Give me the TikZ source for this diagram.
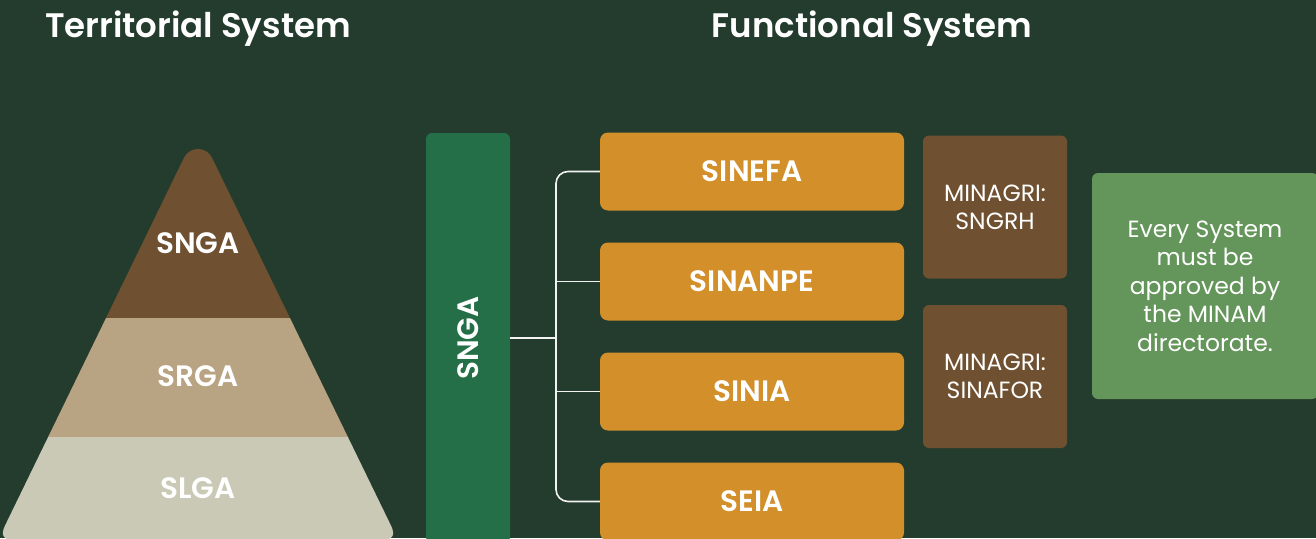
\documentclass[tikz,border=0pt]{standalone}
\usepackage{fontspec}
\setmainfont{Poppins}[BoldFont={Poppins SemiBold}]
\definecolor{bg}{HTML}{243C2D}
\definecolor{brownA}{HTML}{6F5030}
\definecolor{tanB}{HTML}{B8A382}
\definecolor{greyC}{HTML}{C9C9B6}
\definecolor{barG}{HTML}{256F48}
\definecolor{orangeD}{HTML}{D38F2A}
\definecolor{greenE}{HTML}{64955A}
\definecolor{lineW}{HTML}{F2F2F2}
\begin{document}
\begin{tikzpicture}[x=1pt,y=-1pt,
  title/.style={text=white,anchor=base,inner sep=0pt,font=\fontsize{34}{40}\selectfont\bfseries},
  biglab/.style={text=white,font=\fontsize{29.5}{34}\selectfont\bfseries},
  obox/.style={fill=orangeD,rounded corners=8pt,minimum width=304pt,minimum height=78pt,inner sep=0pt,text=white,font=\fontsize{29.5}{34}\selectfont\bfseries},
  bbox/.style={fill=brownA,rounded corners=6pt,minimum width=144pt,minimum height=143pt,inner sep=0pt,text=white,align=center,font=\fontsize{23.5}{28}\selectfont},
  gbox/.style={fill=greenE,rounded corners=6pt,minimum width=226pt,minimum height=226pt,inner sep=0pt,text=white,align=center,font=\fontsize{23.5}{28.5}\selectfont},
  conn/.style={draw=lineW,line width=1.6pt}]
\useasboundingbox (0,0) rectangle (1316,538);
\fill[bg] (0,0) rectangle (1316,538);
\begin{scope}
\clip (0,0) rectangle (1316,538);
% titles
\node[title] (ttl1) at (198,37.7) {Territorial System};
\node[title] (ttl2) at (872,37.7) {Functional System};
% pyramid
\begin{scope}
\clip (14,540) .. controls (3.33,540) and (0.33,535.2) .. (5,525.6) -- (183.97,157.8)
  .. controls (189.66,146.09) and (206.34,146.09) .. (212.03,157.8) -- (391,525.6)
  .. controls (395.67,535.2) and (392.67,540) .. (382,540) -- cycle;
\fill[brownA] (-10,100) rectangle (410,318);
\fill[tanB] (-10,318) rectangle (410,437);
\fill[greyC] (-10,437) rectangle (410,560);
\end{scope}
\node[biglab] (p1) at (198,243) {SNGA};
\node[biglab] (p2) at (198,376) {SRGA};
\node[biglab] (p3) at (198,488) {SLGA};
% vertical bar
\node[fill=barG,rounded corners=6pt,minimum width=84pt,minimum height=410pt,inner sep=0pt] (bar) at (468,338) {};
\node[biglab,rotate=90] (barlab) at (bar.center) {SNGA};
% orange boxes
\node[obox] (sinefa) at (752,171.5) {SINEFA};
\node[obox] (sinanpe) at (752,281.5) {SINANPE};
\node[obox] (sinia) at (752,391.5) {SINIA};
\node[obox] (seia) at (752,501.5) {SEIA};
% connectors
\coordinate (trunk) at (556,338);
\draw[conn,rounded corners=12pt] (sinefa.west) -| (trunk) |- (seia.west);
\draw[conn] (bar.east |- trunk) -- (trunk);
\draw[conn] (trunk |- sinanpe.west) -- (sinanpe.west);
\draw[conn] (trunk |- sinia.west) -- (sinia.west);
% brown boxes
\node[bbox] (m1) at (995,207) {MINAGRI:\\SNGRH};
\node[bbox] (m2) at (995,376.5) {MINAGRI:\\SINAFOR};
% green note
\node[gbox] (note) at (1205,286) {Every System\\must be\\approved by\\the MINAM\\directorate.};
\end{scope}
\end{tikzpicture}
\end{document}
